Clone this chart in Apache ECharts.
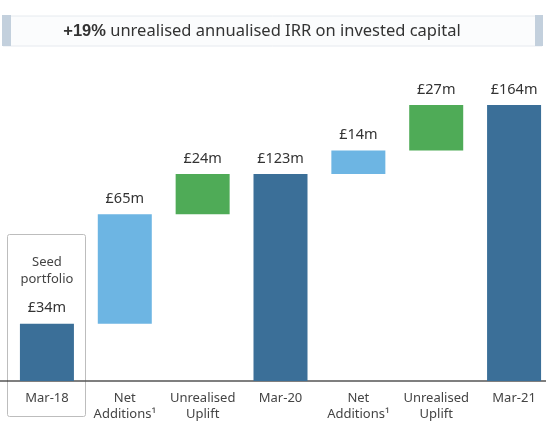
<!DOCTYPE html>
<html>
<head>
<meta charset="utf-8">
<script src="https://cdn.jsdelivr.net/npm/echarts@6/dist/echarts.min.js"></script>
<style>
  html, body { margin: 0; padding: 0; background: #fff; overflow: hidden; }
  #chart { width: 553px; height: 425px; }
</style>
</head>
<body>
<div id="chart"></div>
<script>
// data (£m)
var categories = ['Mar-18', 'Net\nAdditions¹', 'Unrealised\nUplift', 'Mar-20', 'Net\nAdditions¹', 'Unrealised\nUplift', 'Mar-21']
var values = [34, 65, 24, 123, 14, 27, 164]
// total = bar from zero, add = net additions, uplift = unrealised uplift
var kinds = ['total', 'add', 'uplift', 'total', 'add', 'uplift', 'total']
var labels = ['£34m', '£65m', '£24m', '£123m', '£14m', '£27m', '£164m']

var colors = { total: '#3b6f98', add: '#6db5e3', uplift: '#4fab57' }

// invisible base under each floating bar
var base = []
var running = 0
for (var i = 0; i < values.length; i++) {
  if (kinds[i] === 'total') {
    base.push(0)
    running = values[i]
  } else {
    base.push(running)
    running += values[i]
  }
}

var shown = values.map(function (v, i) {
  return {
    value: v,
    itemStyle: { color: colors[kinds[i]] },
    label: { formatter: i === 0 ? '{s|Seed}\n{s|portfolio}\n\n{v|' + labels[i] + '}' : '{v|' + labels[i] + '}' }
  }
})

var chart = echarts.init(document.getElementById('chart'))
var option = {
  animation: false,
  textStyle: { fontFamily: 'Noto Sans' },
  // chart div is a bit wider than the window so the last bar reaches the edge
  grid: { left: 8, right: 0, top: 78, bottom: 44 },
  xAxis: {
    type: 'category',
    data: categories,
    axisLine: { lineStyle: { color: '#555', width: 1.5 } },
    axisTick: { show: false },
    axisLabel: { color: '#444', fontSize: 13, lineHeight: 16, margin: 9, interval: 0 }
  },
  yAxis: {
    type: 'value',
    min: 0,
    max: 180,
    show: false,
    splitLine: { show: false }
  },
  series: [
    {
      type: 'bar',
      stack: 'w',
      data: base,
      barWidth: 54,
      itemStyle: { color: 'transparent' },
      silent: true
    },
    {
      type: 'bar',
      stack: 'w',
      data: shown,
      barWidth: 54,
      label: {
        show: true,
        position: 'top',
        distance: 7,
        color: '#333',
        rich: {
          v: { fontSize: 14.5, color: '#333', lineHeight: 17 },
          s: { fontSize: 13, color: '#444', lineHeight: 17 }
        }
      }
    }
  ],
  graphic: [
    {
      type: 'rect',
      shape: { x: 3, y: 16, width: 539, height: 30 },
      style: { fill: '#fbfcfd', stroke: '#e6eaef', lineWidth: 1 },
      z: 0
    },
    { type: 'rect', shape: { x: 2, y: 15, width: 9, height: 31 }, style: { fill: '#c3d0dd' } },
    { type: 'rect', shape: { x: 535, y: 15, width: 8, height: 31 }, style: { fill: '#c3d0dd' } },
    {
      type: 'text',
      x: 262,
      y: 31,
      style: {
        text: '{b|+19%} unrealised annualised IRR on invested capital',
        align: 'center',
        verticalAlign: 'middle',
        fontFamily: 'Noto Sans',
        fontSize: 16.5,
        fill: '#333',
        rich: { b: { fontWeight: 'bold', fontSize: 16.5, fill: '#333' } }
      }
    },
    {
      type: 'rect',
      shape: { x: 7.5, y: 234.5, width: 78, height: 182, r: 2 },
      style: { fill: 'none', stroke: '#bdbdbd', lineWidth: 1 },
      z: -1
    },
    // axis line continues to the left window edge
    {
      type: 'line',
      shape: { x1: 0, y1: 381, x2: 8, y2: 381 },
      style: { stroke: '#555', lineWidth: 1.5 }
    }
  ]
}
chart.setOption(option)
</script>
</body>
</html>
